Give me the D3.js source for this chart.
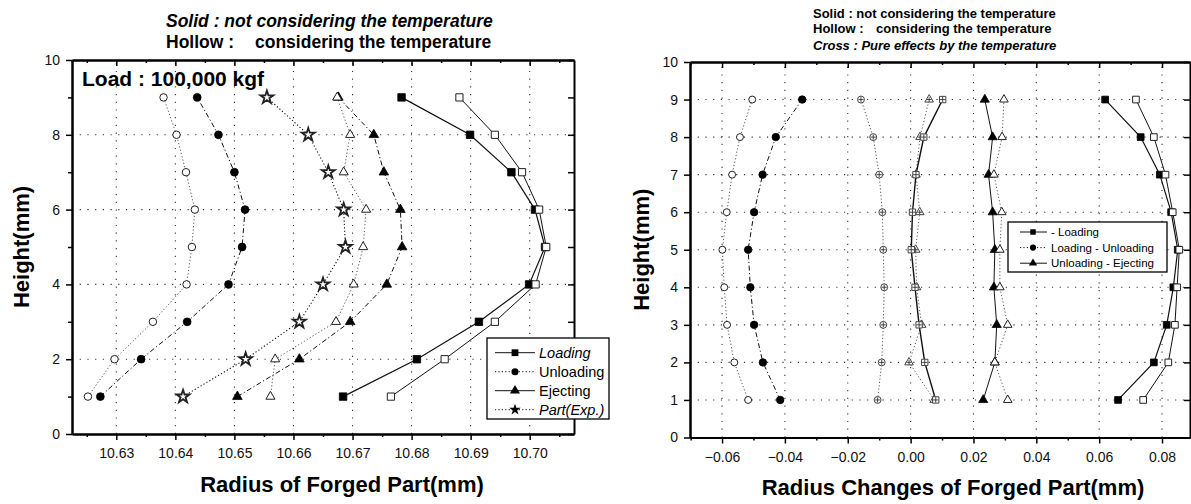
<!DOCTYPE html>
<html>
<head>
<meta charset="utf-8">
<script src="https://cdn.jsdelivr.net/npm/d3@7"></script>
<style>
  body { margin: 0; background: #fff; }
  svg { display: block; font-family: "Liberation Sans", Arial, sans-serif; }
</style>
</head>
<body>
<script>
// chart size
const W = 1191, H = 504;

// heights (mm) shared by every series
const heights = [1, 2, 3, 4, 5, 6, 7, 8, 9];

// left panel : radius of forged part (mm), heights 1..9
const leftLoadingSolid    = [10.6684, 10.6809, 10.6914, 10.6999, 10.7026, 10.7009, 10.6969, 10.6899, 10.6783];
const leftLoadingHollow   = [10.6765, 10.6856, 10.6941, 10.7010, 10.7028, 10.7016, 10.6987, 10.6941, 10.6881];
const leftUnloadingSolid  = [10.6273, 10.6342, 10.6420, 10.6490, 10.6513, 10.6518, 10.6500, 10.6473, 10.6437];
const leftUnloadingHollow = [10.6252, 10.6297, 10.6362, 10.6419, 10.6428, 10.6433, 10.6418, 10.6402, 10.6380];
const leftEjectingSolid   = [10.6505, 10.6610, 10.6696, 10.6758, 10.6784, 10.6781, 10.6753, 10.6736, 10.6676];
const leftEjectingHollow  = [10.6561, 10.6569, 10.6672, 10.6702, 10.6718, 10.6723, 10.6685, 10.6696, 10.6674];
const leftPartExp         = [10.6413, 10.6519, 10.6610, 10.6650, 10.6688, 10.6685, 10.6659, 10.6625, 10.6555];

const leftXTicks = [10.63, 10.64, 10.65, 10.66, 10.67, 10.68, 10.69, 10.70];
const leftXMinor = [10.625, 10.635, 10.645, 10.655, 10.665, 10.675, 10.685, 10.695, 10.705];
const leftYTicks = [0, 2, 4, 6, 8, 10];
const leftYMinor = [1, 3, 5, 7, 9];
const leftLegend = ["Loading", "Unloading", "Ejecting", "Part(Exp.)"];

// right panel : radius changes (mm), heights 1..9
const rightLoadSolid    = [0.0660, 0.0774, 0.0815, 0.0836, 0.0850, 0.0829, 0.0793, 0.0732, 0.0619];
const rightLoadHollow   = [0.0740, 0.0820, 0.0841, 0.0848, 0.0855, 0.0834, 0.0811, 0.0774, 0.0717];
const rightLoadCross    = [0.0080, 0.0045, 0.0027, 0.0014, 0.0002, 0.0006, 0.0017, 0.0042, 0.0102];
const rightUnloadSolid  = [-0.0415, -0.0470, -0.0498, -0.0510, -0.0517, -0.0498, -0.0471, -0.0429, -0.0345];
const rightUnloadHollow = [-0.0517, -0.0561, -0.0584, -0.0593, -0.0599, -0.0585, -0.0568, -0.0543, -0.0504];
const rightUnloadCross  = [-0.0105, -0.0092, -0.0087, -0.0084, -0.0087, -0.0090, -0.0100, -0.0119, -0.0158];
const rightEjectSolid   = [0.0231, 0.0268, 0.0274, 0.0265, 0.0268, 0.0261, 0.0248, 0.0261, 0.0236];
const rightEjectHollow  = [0.0309, 0.0268, 0.0309, 0.0284, 0.0284, 0.0290, 0.0265, 0.0291, 0.0297];
const rightEjectCross   = [0.0075, -0.0005, 0.0035, 0.0019, 0.0016, 0.0029, 0.0017, 0.0030, 0.0059];

const rightXTicks = [-0.06, -0.04, -0.02, 0.00, 0.02, 0.04, 0.06, 0.08];
const rightXMinor = [-0.07, -0.05, -0.03, -0.01, 0.01, 0.03, 0.05, 0.07];
const rightYTicks = [0, 1, 2, 3, 4, 5, 6, 7, 8, 9, 10];
const rightLegend = ["- Loading", "Loading - Unloading", "Unloading - Ejecting"];

const svg = d3.select("body").append("svg").attr("width", W).attr("height", H);

// line dash styles
const DASH = { solid: null, dot: "1.2,2.2", dashdot: "5,2.5,1.2,2.5", dash: "4,2.5" };

function panel(o) {
  const x = d3.scaleLinear().domain(o.xDomain).range(o.xRange);
  const y = d3.scaleLinear().domain([0, 10]).range(o.yRange);
  const g = svg.append("g");
  const [x0, x1] = o.xRange, [y0, y1] = o.yRange;

  // dotted grid
  const grid = g.append("g").attr("stroke", "#333").attr("stroke-width", 1.1).attr("stroke-dasharray", "1.2,6.5");
  grid.selectAll(".gx").data(o.gridX).join("line")
    .attr("x1", d => x(d)).attr("x2", d => x(d)).attr("y1", y0).attr("y2", y1);
  grid.selectAll(".gy").data(o.gridY).join("line")
    .attr("x1", x0).attr("x2", x1).attr("y1", d => y(d)).attr("y2", d => y(d));

  const fmtX = d3.format(o.xFormat);
  const axes = [
    [d3.axisBottom(x).tickValues(o.xTicks).tickFormat(fmtX).tickSize(6).tickPadding(o.xPad), `translate(0,${y0})`],
    [d3.axisBottom(x).tickValues(o.xMinor).tickFormat("").tickSize(3), `translate(0,${y0})`],
    [d3.axisTop(x).tickValues(o.xTicks).tickFormat("").tickSize(-6), `translate(0,${y1})`],
    [d3.axisTop(x).tickValues(o.xMinor).tickFormat("").tickSize(-3), `translate(0,${y1})`],
    [d3.axisLeft(y).tickValues(o.yTicks).tickFormat(d3.format("d")).tickSize(6).tickPadding(6), `translate(${x0},0)`],
    [d3.axisLeft(y).tickValues(o.yMinor).tickFormat("").tickSize(4), `translate(${x0},0)`],
    [d3.axisRight(y).tickValues(o.yTicks.concat(o.yMinor)).tickFormat("").tickSize(-6), `translate(${x1},0)`]
  ];
  axes.forEach(([ax, tr]) => {
    const a = g.append("g").attr("transform", tr).call(ax.tickSizeOuter(0));
    a.select(".domain").attr("stroke", "#000").attr("stroke-width", 2);
    a.selectAll(".tick line").attr("stroke", "#000").attr("stroke-width", 1.5);
    a.selectAll(".tick text").attr("font-size", 14).attr("fill", "#111")
      .attr("font-family", "Liberation Sans, Arial, sans-serif");
  });

  // axis titles
  g.append("text").text(o.xTitle)
    .attr("x", o.xTitleX).attr("y", o.xTitleY).attr("text-anchor", "middle")
    .attr("font-size", 22).attr("font-weight", "bold");
  g.append("text").text("Height(mm)")
    .attr("transform", `translate(${o.yTitleX},${(y0 + y1) / 2}) rotate(-90)`)
    .attr("text-anchor", "middle").attr("font-size", 22).attr("font-weight", "bold");

  return { x, y, g: g.append("g") };
}

function symbolPath(type, size) {
  const t = { square: d3.symbolSquare, circle: d3.symbolCircle, triangle: d3.symbolTriangle, star: d3.symbolStar }[type];
  return d3.symbol().type(t).size(size)();
}

// one series: line + markers
function drawLine(p, vals, dash, w, color) {
  const line = d3.line().x(d => p.x(d)).y((d, i) => p.y(heights[i]));
  p.g.append("path").attr("d", line(vals)).attr("fill", "none")
    .attr("stroke", color || "#111").attr("stroke-width", w).attr("stroke-dasharray", dash);
}

function drawMarks(p, vals, type, size, style) {
  const m = p.g.append("g").selectAll("g").data(vals).join("g")
    .attr("transform", (d, i) => `translate(${p.x(d)},${p.y(heights[i])})`);
  m.append("path").attr("d", symbolPath(type, size))
    .attr("fill", style === "solid" ? "#000" : "#fff")
    .attr("stroke", style === "solid" ? "#000" : (style === "cross" ? "#444" : "#222"))
    .attr("stroke-width", type === "star" ? 1.8 : (style === "solid" ? 0.8 : 1));
  if (style === "cross") {
    const r = Math.sqrt(size) / 2 - 0.5;
    m.append("path").attr("d", `M${-r},0H${r}M0,${-r}V${r}`)
      .attr("stroke", "#333").attr("stroke-width", 0.9);
  }
}

// ---------- left panel ----------
const L = panel({
  xDomain: [10.6225, 10.7075], xRange: [72, 574], yRange: [434, 60],
  xTicks: leftXTicks, xMinor: leftXMinor, yTicks: leftYTicks, yMinor: leftYMinor,
  gridX: leftXTicks, gridY: [2, 4, 6, 8], xFormat: ".2f", xPad: 8,
  xTitle: "Radius of Forged Part(mm)", xTitleX: 342, xTitleY: 492, yTitleX: 29
});

drawLine(L, leftUnloadingHollow, DASH.dot, 0.9, "#444");
drawLine(L, leftEjectingHollow, DASH.dot, 0.9, "#444");
drawLine(L, leftPartExp, DASH.dot, 1.1);
drawLine(L, leftUnloadingSolid, DASH.dashdot, 1);
drawLine(L, leftEjectingSolid, DASH.dashdot, 1);
drawLine(L, leftLoadingHollow, DASH.solid, 1);
drawLine(L, leftLoadingSolid, DASH.solid, 1.2);

drawMarks(L, leftUnloadingSolid, "circle", 48, "solid");
drawMarks(L, leftUnloadingHollow, "circle", 44, "hollow");
drawMarks(L, leftEjectingSolid, "triangle", 40, "solid");
drawMarks(L, leftEjectingHollow, "triangle", 36, "hollow");
drawMarks(L, leftPartExp, "star", 52, "hollow");
drawMarks(L, leftLoadingSolid, "square", 56, "solid");
drawMarks(L, leftLoadingHollow, "square", 52, "hollow");

// titles
svg.append("text").text("Solid : not considering the temperature")
  .attr("x", 166).attr("y", 27).attr("font-size", 17.5).attr("font-weight", "bold").attr("font-style", "italic");
svg.append("text").text("Hollow :").attr("x", 166).attr("y", 48)
  .attr("font-size", 17.5).attr("font-weight", "bold");
svg.append("text").text("considering the temperature").attr("x", 255).attr("y", 48)
  .attr("font-size", 17.5).attr("font-weight", "bold");
svg.append("text").text("Load : 100,000 kgf").attr("x", 82).attr("y", 86)
  .attr("font-size", 21).attr("font-weight", "bold");

// left legend
const legL = svg.append("g");
legL.append("rect").attr("x", 487).attr("y", 338).attr("width", 122).attr("height", 81)
  .attr("fill", "#fff").attr("stroke", "#000").attr("stroke-width", 1.3);
const legLStyle = [
  { type: "square", dash: DASH.solid, italic: true, size: 46 },
  { type: "circle", dash: DASH.dot, italic: false, size: 40 },
  { type: "triangle", dash: DASH.solid, italic: false, size: 44 },
  { type: "star", dash: DASH.dot, italic: true, size: 40 }
];
leftLegend.forEach((name, i) => {
  const yy = 352.7 + i * 19;
  const s = legLStyle[i];
  legL.append("line").attr("x1", 495).attr("x2", 535).attr("y1", yy).attr("y2", yy)
    .attr("stroke", "#111").attr("stroke-width", 1).attr("stroke-dasharray", s.dash);
  legL.append("path").attr("d", symbolPath(s.type, s.size)).attr("transform", `translate(515,${yy})`).attr("fill", "#000");
  legL.append("text").text(name).attr("x", 539).attr("y", yy + 5)
    .attr("font-size", 14.5).attr("font-style", s.italic ? "italic" : "normal");
});

// ---------- right panel ----------
const R = panel({
  xDomain: [-0.0702, 0.0889], xRange: [690, 1190], yRange: [437.5, 62],
  xTicks: rightXTicks, xMinor: rightXMinor, yTicks: rightYTicks, yMinor: [],
  gridX: rightXTicks, gridY: [1, 2, 3, 4, 5, 6, 7, 8, 9], xFormat: ".2f", xPad: 9,
  xTitle: "Radius Changes of Forged Part(mm)", xTitleX: 953, xTitleY: 495, yTitleX: 649
});

drawLine(R, rightUnloadHollow, DASH.dot, 0.9, "#444");
drawLine(R, rightUnloadCross, DASH.dot, 0.9, "#444");
drawLine(R, rightEjectHollow, DASH.dot, 0.9, "#444");
drawLine(R, rightEjectCross, DASH.dot, 0.9, "#444");
drawLine(R, rightUnloadSolid, DASH.dashdot, 1);
drawLine(R, rightEjectSolid, DASH.solid, 1);
drawLine(R, rightLoadCross, DASH.solid, 1.4);
drawLine(R, rightLoadHollow, DASH.solid, 1);
drawLine(R, rightLoadSolid, DASH.solid, 1.2);

drawMarks(R, rightUnloadSolid, "circle", 44, "solid");
drawMarks(R, rightUnloadHollow, "circle", 38, "hollow");
drawMarks(R, rightUnloadCross, "circle", 38, "cross");
drawMarks(R, rightEjectSolid, "triangle", 36, "solid");
drawMarks(R, rightEjectHollow, "triangle", 32, "hollow");
drawMarks(R, rightEjectCross, "triangle", 32, "cross");
drawMarks(R, rightLoadCross, "square", 40, "cross");
drawMarks(R, rightLoadSolid, "square", 46, "solid");
drawMarks(R, rightLoadHollow, "square", 44, "hollow");

svg.append("text").text("Solid : not considering the temperature")
  .attr("x", 813).attr("y", 18.3).attr("font-size", 13).attr("font-weight", "bold");
svg.append("text").text("Hollow :").attr("x", 813).attr("y", 33.3)
  .attr("font-size", 13).attr("font-weight", "bold");
svg.append("text").text("considering the temperature").attr("x", 876).attr("y", 33.3)
  .attr("font-size", 13).attr("font-weight", "bold");
svg.append("text").text("Cross : Pure effects by the temperature")
  .attr("x", 813).attr("y", 50).attr("font-size", 13).attr("font-weight", "bold").attr("font-style", "italic");

// right legend
const legR = svg.append("g");
legR.append("rect").attr("x", 1008).attr("y", 222).attr("width", 159).attr("height", 50)
  .attr("fill", "#fff").attr("stroke", "#000").attr("stroke-width", 1.3);
const legRStyle = [
  { type: "square", dash: DASH.solid },
  { type: "circle", dash: DASH.dot },
  { type: "triangle", dash: DASH.solid }
];
rightLegend.forEach((name, i) => {
  const yy = 232 + i * 15.6;
  const s = legRStyle[i];
  legR.append("line").attr("x1", 1020).attr("x2", 1047).attr("y1", yy).attr("y2", yy)
    .attr("stroke", "#111").attr("stroke-width", 1).attr("stroke-dasharray", s.dash);
  legR.append("path").attr("d", symbolPath(s.type, 30)).attr("transform", `translate(1033,${yy})`).attr("fill", "#000");
  legR.append("text").text(name).attr("x", 1051).attr("y", yy + 4).attr("font-size", 11.5);
});
</script>
</body>
</html>
